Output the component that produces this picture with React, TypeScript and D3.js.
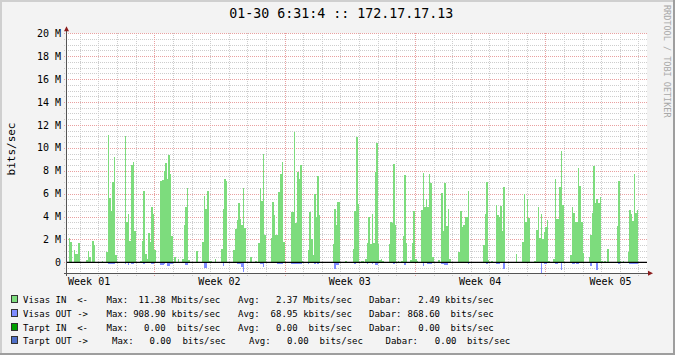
import React from "react";
import * as d3 from "d3";

// ---------- text ----------
const title = "01-30 6:31:4 :: 172.17.17.13";
const yAxisTitle = "bits/sec";
const watermark = "RRDTOOL / TOBI OETIKER";
const weekLabels = ["Week 01", "Week 02", "Week 03", "Week 04", "Week 05"];
const yTickValues = [0, 2, 4, 6, 8, 10, 12, 14, 16, 18, 20];
const yTickLabels = ["0", "2 M", "4 M", "6 M", "8 M", "10 M", "12 M", "14 M", "16 M", "18 M", "20 M"];

// ---------- time axis ----------
const graphStartHourOfWeek = 55.5; // Wed 07:30 of Week 01
const graphSpanHours = 747.6;
const firstBinHour = -1.5; // 2-hour bins starting 06:00
const stepHours = 2;

// ---------- data (Mbits/sec), 2-hour averages ----------
const visasIn = [
  0, 0, 2.1, 1.8, 0, 1.1, 0.7, 0.7, 1.65,
  0, 0, 0, 0, 0.17, 1.0, 0.45, 0, 1.85, 1.5, 0, 0,
  0, 0, 0.1, 0, 0, 0.9, 11.1, 5.6, 4.5, 7.0, 9.2, 0.6,
  0, 0, 0, 0, 0, 11.0, 3.5, 4.2, 1.9, 8.5, 8.8, 2.7,
  0, 0, 0, 0.1, 1.9, 6.2, 0.7, 0.3, 2.6, 1.8, 4.8, 4.2,
  1.1, 0, 0, 0, 7.1, 7.2, 8.0, 8.7, 7.3, 9.4, 7.7, 2.3,
  0, 0.47, 0, 0.29, 0, 0, 0.25, 3.3, 4.8, 6.5, 0.2, 0,
  0, 0, 0, 1.0, 0, 0, 0, 1.8, 5.8, 4.7, 6.2, 0.1,
  0.1, 0, 0, 0.26, 0, 0, 0, 1.2, 4.7, 7.3, 7.1, 0,
  0, 0, 0, 1.1, 2.9, 3.7, 5.2, 3.8, 3.3, 6.5, 3.0, 0,
  0, 0, 0.47, 0, 0, 0.1, 0, 1.7, 6.5, 5.4, 9.5, 2.4,
  0, 0, 0, 2.1, 5.3, 4.1, 2.4, 2.4, 6.1, 7.7, 8.8, 1.8,
  0, 0, 0, 0, 4.4, 4.4, 11.38, 3.4, 7.9, 7.3, 8.5, 0.1,
  0, 0, 0, 1.1, 4.4, 2.0, 0.6, 6.0, 4.0, 7.5, 4.1, 0,
  0, 0, 0, 0, 0, 0, 0, 1.6, 4.7, 3.3, 5.3, 5.3,
  0, 0, 0, 0.1, 0, 0, 0, 0, 1.2, 4.45, 10.95, 5.1,
  0, 0.1, 0.1, 0, 0.3, 1.7, 4.0, 1.6, 4.2, 1.7, 7.9, 10.4,
  1.6, 0.2, 0.25, 0.15, 0, 0, 0, 1.6, 3.5, 3.4, 8.6, 3.3,
  0, 0.1, 0, 0.1, 2.3, 7.6, 1.7, 0, 0, 0.2, 1.7, 4.45,
  0.25, 0.15, 0, 0, 4.6, 7.8, 4.8, 5.5, 4.8, 7.7, 6.9, 0.47,
  0, 0, 0, 0.17, 0, 6.05, 2.7, 6.9, 3.2, 4.7, 0.25, 0,
  0, 0, 0, 0, 0.9, 4.5, 3.1, 3.3, 4.0, 4.0, 6.2, 0,
  0, 0, 0, 0, 0, 0, 0, 0, 1.5, 4.2, 7.0, 0.17,
  0, 0.1, 0, 0, 5.0, 4.1, 4.0, 4.9, 2.7, 6.6, 0, 0,
  0, 0, 0, 0, 0, 0.75, 0, 0, 0, 1.8, 6.0, 3.5,
  5.5, 3.9, 0, 0, 0, 0.1, 2.8, 4.8, 2.1, 4.2, 2.0, 2.65,
  3.1, 3.7, 0.1, 0, 0, 0.3, 7.25, 3.75, 3.75, 6.6, 9.7, 5.0,
  0, 0, 0, 0, 0.6, 4.8, 4.3, 3.5, 3.5, 8.2, 6.7, 3.5,
  0.8, 0, 0, 0, 0.47, 2.35, 4.3, 8.4, 5.2, 5.5, 5.2, 5.7,
  0.1, 0, 0.1, 0, 1.2, 0, 0, 0, 0, 0, 3.2, 7.1,
  0.1, 0, 0.1, 0, 0, 0.9, 4.6, 4.2, 3.6, 7.75, 4.3, 4.6,
  0, 0, 0, 0, 0, 0,
];

const visasOut = [
  0, 0, 0, 0, 0, 0, 0, 0, 0,
  0, 0, 0, 0, 0, 0, 0, 0, 0, 0, 0, 0,
  0, 0, 0, 0, 0, 0, 0.15, 0.15, 0.15, 0.15, 0.15, 0,
  0, 0, 0, 0, 0, 0.15, 0, 0.2, 0, 0.15, 0.15, 0,
  0, 0, 0, 0, 0, 0.12, 0, 0, 0.1, 0, 0.12, 0.12,
  0, 0, 0, 0, 0.2, 0.2, 0.12, 0, 0.32, 0.32, 0.15, 0.15,
  0, 0, 0, 0, 0, 0, 0, 0, 0.26, 0.26, 0, 0,
  0, 0, 0, 0, 0, 0, 0, 0, 0.5, 0.5, 0, 0,
  0, 0, 0, 0, 0, 0, 0, 0, 0.3, 0.1, 0, 0,
  0, 0, 0, 0, 0, 0.15, 0.15, 0.15, 0.4, 0.85, 0, 0,
  0, 0, 0, 0, 0, 0, 0, 0, 0.15, 0.15, 0.4, 0,
  0, 0, 0, 0, 0, 0, 0, 0.15, 0.15, 0.15, 0.15, 0,
  0, 0, 0, 0, 0.15, 0.15, 0.15, 0.15, 0.15, 0.15, 0.15, 0,
  0, 0, 0, 0.12, 0, 0, 0, 0.12, 0, 0.12, 0, 0,
  0, 0, 0, 0, 0, 0, 0, 0, 0.55, 0.2, 0.2, 0,
  0, 0, 0, 0, 0, 0, 0, 0, 0, 0.12, 0, 0,
  0, 0, 0, 0, 0, 0.12, 0, 0, 0.12, 0, 0.25, 0.25,
  0, 0, 0, 0, 0, 0, 0, 0, 0, 0, 0.15, 0,
  0, 0, 0, 0, 0, 0.2, 0, 0, 0, 0, 0, 0,
  0, 0, 0, 0, 0, 0.32, 0, 0, 0.15, 0.15, 0.15, 0,
  0, 0, 0, 0, 0, 0.15, 0.15, 0.26, 0.26, 0, 0, 0,
  0, 0, 0, 0, 0, 0, 0, 0, 0, 0, 0.15, 0,
  0, 0, 0, 0, 0, 0, 0, 0, 0, 0, 0.15, 0,
  0, 0, 0, 0, 0.15, 0.15, 0.15, 0, 0, 0.6, 0, 0,
  0, 0, 0, 0, 0, 0, 0, 0, 0, 0, 0, 0,
  0, 0, 0, 0, 0, 0, 0, 0, 0, 0.909, 0, 0.15,
  0.15, 0, 0, 0, 0, 0, 0.15, 0.15, 0, 0, 0.67, 0,
  0, 0, 0, 0, 0, 0.15, 0.15, 0, 0.15, 0.15, 0, 0,
  0, 0, 0, 0, 0, 0.3, 0, 0, 0, 0.67, 0, 0,
  0, 0, 0, 0, 0, 0, 0, 0, 0, 0, 0, 0.15,
  0, 0, 0, 0, 0, 0, 0.15, 0.15, 0.15, 0.15, 0.15, 0.15,
  0, 0, 0, 0, 0, 0,
];

// ---------- legend ----------
const legendNames = ["Visas IN  <-", "Visas OUT ->", "Tarpt IN  <-", "Tarpt OUT ->"];
const legendColors = ["#7ddc7d", "#7f8cff", "#00a000", "#4f6fc8"];
const maxValues = ["11.38", "908.90", "0.00", "0.00"];
const maxUnits = ["Mbits/sec", "kbits/sec", " bits/sec", " bits/sec"];
const avgValues = ["2.37", "68.95", "0.00", "0.00"];
const avgUnits = ["Mbits/sec", "kbits/sec", " bits/sec", " bits/sec"];
const curValues = ["2.49", "868.60", "0.00", "0.00"];
const curUnits = ["kbits/sec", " bits/sec", " bits/sec", " bits/sec"];
const rowJustify = [0, 0, 0, 5.5];

const MONO = "'DejaVu Sans Mono', monospace";
const keep = (s: string) => s.replace(/ /g, "\u00a0");

type Pt = { t: number; v: number };

function toPoints(values: number[], sign: number): Pt[] {
  const pts = values.map((v, i) => ({ t: firstBinHour + i * stepHours, v: sign * v }));
  pts.push({ t: firstBinHour + values.length * stepHours, v: sign * values[values.length - 1] });
  return pts;
}

export default function App() {
  const W = 675;
  const H = 355;
  const left = 67;
  const right = 647;
  const top = 33.3;
  const bottom = 273.8;

  const x = d3.scaleLinear().domain([0, graphSpanHours]).range([left, right]);
  const y = d3.scaleLinear().domain([-1, 20]).range([bottom, top]);

  const area = d3
    .area<Pt>()
    .x((d) => x(d.t))
    .y0(y(0))
    .y1((d) => y(d.v))
    .curve(d3.curveStepAfter);

  const inPath = area(toPoints(visasIn, 1)) || "";
  const outPath = area(toPoints(visasOut, -1)) || "";

  const minorY = d3.range(-0.5, 20.001, 0.5).filter((v) => Math.abs(v / 2 - Math.round(v / 2)) > 1e-6);
  const majorY = yTickValues;

  const firstMidnight = (24 - (graphStartHourOfWeek % 24)) % 24;
  const firstMonday = 168 - graphStartHourOfWeek;
  const dayLines = d3.range(firstMidnight, graphSpanHours, 24).filter((h) => Math.abs(((h - firstMonday) % 168 + 168) % 168) > 1e-6);
  const weekLines = d3.range(firstMonday, graphSpanHours, 168);
  const weekLabelHours = weekLabels.map((_, k) => firstMonday - 168 + 84 + 168 * k);

  const px = (v: number) => Math.round(v) + 0.5;

  const minorColor = "#cdcdcd";
  const majorColor = "#e9a0a0";

  const legendBaselines = [303, 316.8, 330.6, 344.4];

  return (
    <svg
      width={W}
      height={H}
      viewBox={`0 0 ${W} ${H}`}
      style={{ position: "absolute", left: 0, top: 0, display: "block" }}
      fontFamily={MONO}
    >
      <defs>
        <clipPath id="plotClip">
          <rect x={left} y={top - 1} width={right - left} height={bottom - top + 1} />
        </clipPath>
      </defs>
      <rect x={0} y={0} width={W} height={H} fill="#f3f3f3" />
      {/* frame */}
      <rect x={0} y={0} width={W} height={2} fill="#cfcfcf" />
      <rect x={0} y={0} width={2} height={H} fill="#cfcfcf" />
      <rect x={0} y={H - 2} width={W} height={2} fill="#9e9e9e" />
      <rect x={W - 2} y={0} width={2} height={H} fill="#9e9e9e" />

      {/* canvas */}
      <rect x={left} y={top} width={right - left} height={bottom - top} fill="#ffffff" />

      {/* grid */}
      <g shapeRendering="crispEdges" strokeWidth={1} strokeDasharray="1,1">
        {minorY.map((v) => (
          <line key={`my${v}`} x1={left - 3} x2={right} y1={px(y(v))} y2={px(y(v))} stroke={minorColor} />
        ))}
        {dayLines.map((h) => (
          <line key={`dx${h}`} x1={px(x(h))} x2={px(x(h))} y1={top} y2={bottom + 2} stroke={minorColor} />
        ))}
        {majorY.map((v) => (
          <line key={`My${v}`} x1={left - 3} x2={right} y1={px(y(v))} y2={px(y(v))} stroke={majorColor} />
        ))}
        {weekLines.map((h) => (
          <line key={`wx${h}`} x1={px(x(h))} x2={px(x(h))} y1={top} y2={bottom + 2} stroke={majorColor} />
        ))}
      </g>

      {/* data */}
      <g clipPath="url(#plotClip)" shapeRendering="crispEdges">
        <path d={inPath} fill="#7ddc7d" />
        <path d={outPath} fill="#7f8cff" />
      </g>

      {/* zero rule */}
      <line x1={left} x2={right} y1={y(0)} y2={y(0)} stroke="#000" strokeWidth={1.3} />

      {/* axes */}
      <g shapeRendering="crispEdges">
        <line x1={left - 0.5} x2={left - 0.5} y1={top - 4} y2={bottom + 2} stroke="#555" />
        <line x1={left - 3} x2={right + 2} y1={px(bottom) - 1} y2={px(bottom) - 1} stroke="#555" />
      </g>
      <path d={`M${left - 3},${top - 2} L${left + 2},${top - 2} L${left - 0.5},${top - 7} Z`} fill="#8b1c1c" />
      <path d={`M${right + 1},${bottom - 3} L${right + 1},${bottom + 2} L${right + 6},${bottom - 0.5} Z`} fill="#8b1c1c" />

      {/* y tick labels */}
      {yTickValues.map((v, i) => (
        <text key={`yl${v}`} x={61} y={y(v)} dy="0.36em" textAnchor="end" fontSize={10} fill="#000">
          {keep(yTickLabels[i])}
        </text>
      ))}

      {/* x labels */}
      {weekLabels.map((l, i) => (
        <text key={l} x={x(weekLabelHours[i])} y={284.5} textAnchor="middle" fontSize={10} fill="#000">
          {keep(l)}
        </text>
      ))}

      {/* title */}
      <text x={341.3} y={18.3} textAnchor="middle" fontSize={13.3} fill="#000">
        {keep(title)}
      </text>

      {/* y axis title */}
      <text transform="translate(15,149) rotate(-90)" textAnchor="middle" fontSize={11} fill="#000">
        {yAxisTitle}
      </text>

      {/* watermark */}
      <text transform="translate(664,5) rotate(90)" textAnchor="start" fontSize={8.5} fill="#a8a8a8">
        {keep(watermark)}
      </text>

      {/* legend */}
      {legendNames.map((name, r) => {
        const b = legendBaselines[r];
        const j = rowJustify[r];
        return (
          <g key={name} fontSize={9} fill="#000">
            <rect x={11.5} y={b - 7.5} width={6} height={7} fill={legendColors[r]} stroke="#333" strokeWidth={1} shapeRendering="crispEdges" />
            <text x={23} y={b}>{keep(name)}</text>
            <text x={106.5 + j} y={b}>Max:</text>
            <text x={165.7 + j} y={b} textAnchor="end">{maxValues[r]}</text>
            <text x={171.5 + j} y={b}>{keep(maxUnits[r])}</text>
            <text x={238 + 2 * j} y={b}>Avg:</text>
            <text x={297.7 + 2 * j} y={b} textAnchor="end">{avgValues[r]}</text>
            <text x={303.2 + 2 * j} y={b}>{keep(avgUnits[r])}</text>
            <text x={369 + 3 * j} y={b}>Dabar:</text>
            <text x={440 + 3 * j} y={b} textAnchor="end">{curValues[r]}</text>
            <text x={445 + 3 * j} y={b}>{keep(curUnits[r])}</text>
          </g>
        );
      })}
    </svg>
  );
}
